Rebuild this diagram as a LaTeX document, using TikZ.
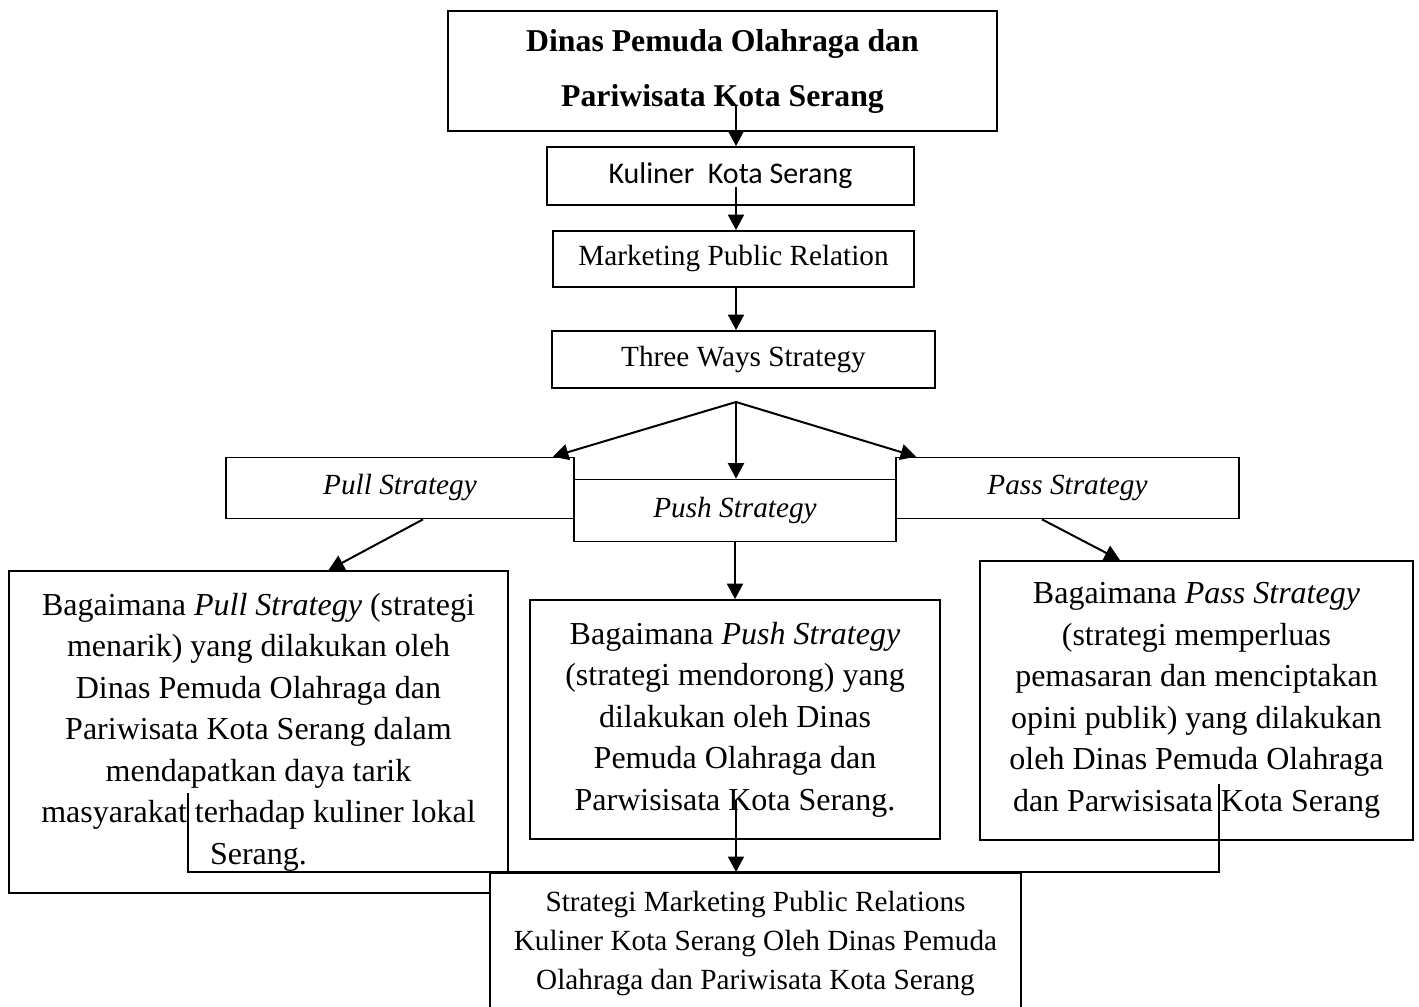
\documentclass[tikz,border=0pt]{standalone}
\usepackage{fontspec}
\setmainfont{Liberation Serif}
\newfontfamily\calibri{Carlito}
\usetikzlibrary{arrows.meta,calc}

\begin{document}
\begin{tikzpicture}[x=0.4pt,y=-0.4pt,
 kotak/.style n args={2}{draw,fill=white,line width=0.7pt,inner sep=0pt,align=center,minimum width=#1*0.4pt,minimum height=#2*0.4pt},
 kecil/.style={font=\fontsize{11.7}{15.6}\selectfont},
 besar/.style={font=\fontsize{12.8}{16.6}\selectfont},
 panah/.style={-{Triangle[width=6.4pt,length=6.2pt]},line width=0.8pt},
 garis/.style={line width=0.6pt}]
 \useasboundingbox (0,0) rectangle (1419,1006);
 \node[kotak={549}{120},font=\bfseries\fontsize{12.7}{22}\selectfont] (dinas) at (722.5,71) {Dinas Pemuda Olahraga dan\\Pariwisata Kota Serang};
 \node[kotak={367}{58},font=\calibri\fontsize{12}{14}\selectfont] (kuliner) at (730.5,176) {Kuliner\ \ Kota Serang};
 \node[kotak={361}{56},kecil] (mpr) at (733.5,259) {Marketing Public Relation};
 \node[kotak={383}{57},kecil] (three) at (743.5,359.5) {Three Ways Strategy};
 \node[kotak={348}{61},kecil] (pull) at (400,488) {\textit{Pull Strategy}};
 \node[kotak={343}{61},kecil] (pass) at (1067.5,488) {\textit{Pass Strategy}};
 \node[kotak={322}{62},kecil] (push) at (735,510.5) {\textit{Push Strategy}};
 \node[kotak={499}{322},besar] (pullq) at (258.5,732) {Bagaimana \textit{Pull Strategy} (strategi\\menarik) yang dilakukan oleh\\Dinas Pemuda Olahraga dan\\Pariwisata Kota Serang dalam\\mendapatkan daya tarik\\masyarakat terhadap kuliner lokal\\Serang.};
 \node[kotak={410}{239},besar] (pushq) at (735,719.5) {Bagaimana \textit{Push Strategy}\\(strategi mendorong) yang\\dilakukan oleh Dinas\\Pemuda Olahraga dan\\Parwisisata Kota Serang.};
 \node[kotak={433}{279},besar] (passq) at (1196.5,700.5) {Bagaimana \textit{Pass Strategy}\\(strategi memperluas\\pemasaran dan menciptakan\\opini publik) yang dilakukan\\oleh Dinas Pemuda Olahraga\\dan Parwisisata Kota Serang};
 \node[kotak={531}{140},kecil] (hasil) at (755.5,943) {Strategi Marketing Public Relations\\Kuliner Kota Serang Oleh Dinas Pemuda\\Olahraga dan Pariwisata Kota Serang};
 \coordinate (a1) at (736,105);
 \coordinate (a2) at (736,187);
 \coordinate (a3) at (736,800);
 \coordinate (cabang) at (736,402);
 \coordinate (kiri) at (188,793);
 \coordinate (kanan) at (1219,784);
 \draw[panah] (a1) -- (a1 |- kuliner.north);
 \draw[panah] (a2) -- (a2 |- mpr.north);
 \draw[panah] (mpr.south -| a2) -- (three.north -| a2);
 \draw[panah] (cabang) -- ($(pull.north east)+(-22,0)$);
 \draw[panah] (cabang) -- (cabang |- push.north);
 \draw[panah] (cabang) -- ($(pass.north west)+(21,0)$);
 \draw[panah] ($(pull.south)+(23,0)$) -- ($(pullq.north)+(70,0)$);
 \draw[panah] (push.south) -- (pushq.north);
 \draw[panah] ($(pass.south)+(-25.5,0)$) -- ($(passq.north)+(-76.5,0)$);
 \draw[garis] (kiri) |- (kanan |- hasil.north) -- (kanan);
 \draw[panah,line width=0.5pt] (a3) -- (a3 |- hasil.north);
\end{tikzpicture}
\end{document}
